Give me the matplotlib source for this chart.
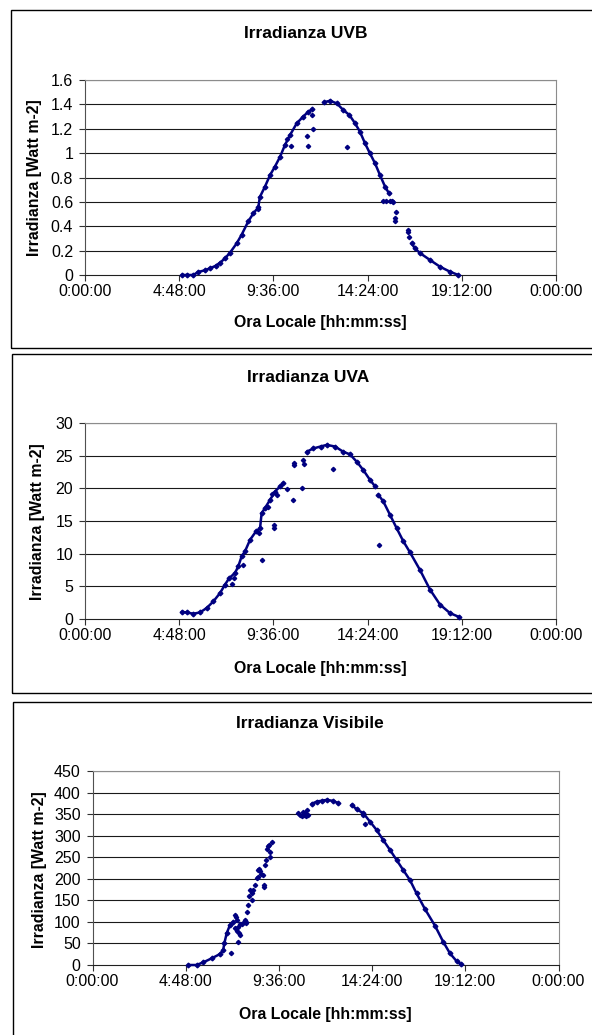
import matplotlib
matplotlib.use('Agg')
import numpy as np
import matplotlib.pyplot as plt
from matplotlib.patches import Rectangle

plt.rcParams.update({
    'font.family':     ['Liberation Sans', 'DejaVu Sans'],
    'font.size':       11.5,
    'axes.linewidth':  0.8,
    'xtick.direction': 'out',
    'ytick.direction': 'out',
})

NAVY = '#000080'
W, H = 592, 1035

# ---------------------------------------------------------------
# DATA  (time in decimal hours, irradiance in W m-2)
# ---------------------------------------------------------------
XTICKS = [0, 4.8, 9.6, 14.4, 19.2, 24]
XTICK_LABELS = ['0:00:00', '4:48:00', '9:36:00', '14:24:00', '19:12:00', '0:00:00']

# UVB
UVB_T1 = [4.93, 5.20, 5.52, 5.77, 6.10, 6.37, 6.65, 6.88, 7.15, 7.39, 7.73, 7.98, 8.32,
          8.58, 8.83, 8.91, 9.17, 9.43, 9.68, 9.94, 10.19, 10.45, 10.79, 11.12, 11.38, 11.58]
UVB_V1 = [0.0, 0.0, 0.0, 0.025, 0.038, 0.055, 0.075, 0.10, 0.14, 0.183, 0.26, 0.33, 0.44,
          0.506, 0.555, 0.64, 0.725, 0.82, 0.89, 0.97, 1.067, 1.149, 1.245, 1.30, 1.34, 1.36]
UVB_T2 = [12.18, 12.48, 12.83, 13.16, 13.47, 13.76, 14.01, 14.27, 14.52, 14.78, 15.03, 15.29, 15.49]
UVB_V2 = [1.417, 1.43, 1.408, 1.354, 1.313, 1.245, 1.176, 1.08, 0.998, 0.916, 0.82, 0.725, 0.67]
UVB_T3 = [16.65, 16.80, 17.07, 17.58, 18.09, 18.60, 19.02]
UVB_V3 = [0.26, 0.22, 0.18, 0.123, 0.068, 0.027, 0.0]
UVB_ST = [15.20, 15.35, 15.54, 15.62, 15.71, 15.83, 15.80, 15.82, 16.44, 16.46, 16.51,
          11.30, 11.38, 11.63, 11.55, 13.33, 10.48, 8.80, 10.30]
UVB_SV = [0.607, 0.607, 0.61, 0.605, 0.60, 0.52, 0.465, 0.44, 0.369, 0.355, 0.314,
          1.143, 1.06, 1.198, 1.31, 1.053, 1.06, 0.54, 1.12]

# UVA
UVA_T1 = [4.93, 5.18, 5.52, 5.86, 6.20, 6.54, 6.88, 7.13, 7.35, 7.64, 7.81, 7.98, 8.15,
          8.41, 8.71, 8.92, 9.00, 9.17, 9.43, 9.68, 9.94, 10.10]
UVA_V1 = [1.1, 1.0, 0.81, 1.0, 1.68, 2.69, 3.97, 5.24, 6.27, 7.03, 8.05, 9.58, 10.34,
          12.12, 13.4, 13.9, 16.2, 16.97, 18.24, 19.5, 20.3, 20.8]
UVA_T2 = [11.30, 11.63, 12.00, 12.32, 12.74, 13.16, 13.50, 13.84, 14.18, 14.52, 14.78]
UVA_V2 = [25.6, 26.1, 26.4, 26.65, 26.4, 25.6, 25.2, 24.1, 22.8, 21.3, 20.3]
UVA_T3 = [14.95, 15.20, 15.54, 15.88, 16.22, 16.56, 17.07, 17.58, 18.09, 18.60, 19.07]
UVA_V3 = [19.0, 18.0, 15.95, 13.9, 11.9, 10.2, 7.5, 4.5, 2.2, 0.9, 0.3]
UVA_ST = [9.04, 9.63, 9.63, 10.28, 10.61, 10.63, 10.65, 11.07, 11.12, 11.15, 7.47, 8.05,
          12.65, 15.00, 9.80, 9.30, 8.85, 9.55, 7.60]
UVA_SV = [9.07, 14.4, 13.9, 19.9, 18.2, 23.85, 23.5, 20.1, 24.4, 23.7, 5.4, 8.3,
          23.0, 11.26, 19.0, 17.2, 13.2, 19.2, 6.2]

# Visibile
VIS_T1 = [4.93, 5.36, 5.71, 6.14, 6.57, 6.73, 6.79, 6.91, 7.08, 7.25]
VIS_V1 = [0.0, 0.0, 6.2, 15.5, 25.5, 34.8, 50.3, 73.5, 92.8, 100.6]
VIS_T2 = [11.29, 11.54, 11.80, 12.06, 12.40, 12.66]
VIS_V2 = [373.7, 379.0, 381.0, 383.0, 380.6, 375.3]
VIS_T3 = [13.35, 13.60, 13.95, 14.29, 14.63, 14.97, 15.32, 15.66, 16.00, 16.35, 16.69,
          17.12, 17.64, 18.06, 18.41, 18.75, 19.00]
VIS_V3 = [371.4, 361.3, 352.0, 332.6, 313.3, 290.0, 267.0, 243.7, 220.5, 197.0, 166.0,
          130.0, 91.0, 54.0, 27.0, 9.0, 1.5]
VIS_ST = [7.34, 7.40, 7.45, 7.34, 7.42, 7.51, 7.60, 7.68, 7.12, 7.48, 7.55, 7.59,
          7.85, 7.80, 7.94, 8.02, 8.08, 8.11, 8.19, 8.28, 8.22, 7.90, 7.93,
          8.37, 8.45, 8.50, 8.54, 8.60, 8.62, 8.70, 8.80, 8.85, 8.83,
          8.88, 8.96, 9.00, 9.05, 9.10, 9.14, 9.12, 9.23,
          10.60, 10.68, 10.77, 10.86, 10.95, 11.03, 11.11, 11.00, 10.90, 13.95, 14.05]
VIS_SV = [116, 112, 104, 85, 80, 89, 95, 96, 28.6, 52.6, 75, 69.6,
          104, 99, 124, 139, 159, 174, 166, 174, 150, 100, 97,
          186, 201, 205, 220, 222, 217, 212, 209, 180, 185,
          232, 244, 268, 275, 279, 251, 262, 286,
          352, 348, 346, 356, 352, 360, 348, 345, 349, 348, 328]

PANELS = [
    dict(title='Irradianza UVB', segs=[(UVB_T1, UVB_V1), (UVB_T2, UVB_V2), (UVB_T3, UVB_V3)],
         st=UVB_ST, sv=UVB_SV, ymax=1.6, yticks=[0, 0.2, 0.4, 0.6, 0.8, 1, 1.2, 1.4, 1.6],
         ylabels=['0', '0.2', '0.4', '0.6', '0.8', '1', '1.2', '1.4', '1.6'],
         box=(11, 10, 348), ax=(85, 80, 556, 275),
         title_xy=(306, 33), xl_xy=(320, 323), yl_xy=(35, 178)),
    dict(title='Irradianza UVA', segs=[(UVA_T1, UVA_V1), (UVA_T2, UVA_V2), (UVA_T3, UVA_V3)],
         st=UVA_ST, sv=UVA_SV, ymax=30, yticks=[0, 5, 10, 15, 20, 25, 30],
         ylabels=['0', '5', '10', '15', '20', '25', '30'],
         box=(12, 354, 693), ax=(85, 423, 556, 619),
         title_xy=(308, 378), xl_xy=(320, 668), yl_xy=(38, 522)),
    dict(title='Irradianza Visibile', segs=[(VIS_T1, VIS_V1), (VIS_T2, VIS_V2), (VIS_T3, VIS_V3)],
         st=VIS_ST, sv=VIS_SV, ymax=450, yticks=list(range(0, 451, 50)),
         ylabels=[str(v) for v in range(0, 451, 50)],
         box=(13, 702, 1045), ax=(92.5, 771, 558.5, 965),
         title_xy=(310, 724), xl_xy=(325, 1014), yl_xy=(40, 870)),
]

fig = plt.figure(figsize=(W / 100, H / 100), dpi=100)
fig.patch.set_facecolor('white')


def fx(px):
    return px / W


def fy(py):
    return 1 - py / H


for p in PANELS:
    # chart frame (runs off the right edge like the reference)
    bx, btop, bbot = p['box']
    fig.add_artist(Rectangle((fx(bx), fy(bbot)), fx(620 - bx), (bbot - btop) / H,
                             transform=fig.transFigure, fill=False,
                             edgecolor='#000000', linewidth=1.0))

    x0, y0, x1, y1 = p['ax']
    ax = fig.add_axes([fx(x0), fy(y1), fx(x1 - x0), (y1 - y0) / H])
    ax.set_xlim(0, 24)
    ax.set_ylim(0, p['ymax'])
    ax.set_xticks(XTICKS)
    ax.set_xticklabels(XTICK_LABELS)
    ax.set_yticks(p['yticks'])
    ax.set_yticklabels(p['ylabels'])
    ax.tick_params(axis='x', length=4, width=0.8, pad=2.5, labelsize=11.5, color='#303030')
    ax.tick_params(axis='y', length=4, width=0.8, pad=4.5, labelsize=11.5, color='#303030')

    for v in p['yticks'][1:]:
        ax.axhline(v, color='#1a1a1a', linewidth=0.8, zorder=1)
    for side in ['top', 'right']:
        ax.spines[side].set_color('#8c8c8c')
    ax.spines['left'].set_color('#505050')
    ax.spines['bottom'].set_color('#202020')

    # dense series: thick trace with the read-off points as small diamonds
    for t, v in p['segs']:
        ax.plot(t, v, '-', color=NAVY, linewidth=1.8, solid_capstyle='round',
                solid_joinstyle='round', zorder=3, clip_on=False)
        ax.plot(t, v, 'D', color=NAVY, markersize=2.4, linestyle='none',
                zorder=3, clip_on=False)
    ax.plot(p['st'], p['sv'], 'D', color=NAVY, markersize=2.2, linestyle='none',
            zorder=3, clip_on=False)

    fig.text(fx(p['title_xy'][0]), fy(p['title_xy'][1]), p['title'],
             ha='center', va='center', fontsize=12.5, fontweight='bold')
    fig.text(fx(p['xl_xy'][0]), fy(p['xl_xy'][1]), 'Ora Locale [hh:mm:ss]',
             ha='center', va='center', fontsize=11.4, fontweight='bold')
    fig.text(fx(p['yl_xy'][0]), fy(p['yl_xy'][1]), 'Irradianza [Watt m-2]',
             ha='center', va='center', rotation=90, fontsize=11.4, fontweight='bold')

fig.savefig('out.png', dpi=100, facecolor='white')
